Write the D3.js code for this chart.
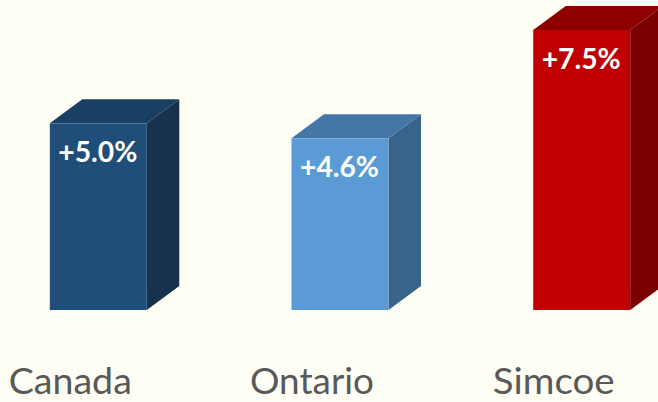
<!DOCTYPE html>
<html>
<head>
<meta charset="utf-8">
<script src="https://cdn.jsdelivr.net/npm/d3@7"></script>
<style>
  html, body { margin: 0; padding: 0; background: #FFFEF5; }
  svg { display: block; }
</style>
</head>
<body>
<div id="chart"></div>
<script>
// Data
const categories = ["Canada", "Ontario", "Simcoe"];
const values = [5.0, 4.6, 7.5];
const valueLabels = ["+5.0%", "+4.6%", "+7.5%"];
const frontColors = ["#1F4E79", "#5B9BD5", "#C00000"];
const topColors = ["#193F62", "#4577A6", "#8E0000"];
const sideColors = ["#16324D", "#386489", "#7A0000"];

const W = 658, H = 402;
const svg = d3.select("#chart").append("svg")
  .attr("width", W).attr("height", H);

svg.append("rect").attr("width", W).attr("height", H).attr("fill", "#FFFEF5");

const baseY = 310;
const x = d3.scalePoint().domain(categories).range([98.3, 581.7]);
const y = d3.scaleLinear().domain([0, 7.5]).range([baseY, 30]);
const barW = 97;
const dx = 32.5, dy = -24;

const g = svg.append("g");
const bars = g.selectAll("g.bar")
  .data(categories.map((c, i) => ({ c, v: values[i], i })))
  .join("g").attr("class", "bar");

// side face
bars.append("path")
  .attr("fill", d => sideColors[d.i])
  .attr("d", d => {
    const x1 = x(d.c) + barW / 2, t = y(d.v), b = y(0);
    return `M${x1},${t}L${x1 + dx},${t + dy}L${x1 + dx},${b + dy}L${x1},${b}Z`;
  });
// top face
bars.append("path")
  .attr("fill", d => topColors[d.i])
  .attr("d", d => {
    const x0 = x(d.c) - barW / 2, x1 = x(d.c) + barW / 2, t = y(d.v);
    return `M${x0},${t}L${x0 + dx},${t + dy}L${x1 + dx},${t + dy}L${x1},${t}Z`;
  });
// front face
bars.append("rect")
  .attr("fill", d => frontColors[d.i])
  .attr("x", d => x(d.c) - barW / 2)
  .attr("y", d => y(d.v))
  .attr("width", barW)
  .attr("height", d => y(0) - y(d.v));

// value labels
bars.append("text")
  .attr("x", d => x(d.c) - 0.5)
  .attr("y", d => y(d.v) + 39)
  .attr("text-anchor", "middle")
  .attr("fill", "#FFFFFF")
  .attr("font-family", "Lato, 'Open Sans', sans-serif")
  .attr("font-weight", "bold")
  .attr("font-size", 29)
  .attr("textLength", 79)
  .attr("lengthAdjust", "spacingAndGlyphs")
  .text(d => valueLabels[d.i]);

// category labels
const labelWidths = [123, 124, 122];
svg.append("g").selectAll("text")
  .data(categories)
  .join("text")
  .attr("x", d => x(d) - 28)
  .attr("y", 394)
  .attr("text-anchor", "middle")
  .attr("fill", "#595959")
  .attr("font-family", "Lato, 'Open Sans', sans-serif")
  .attr("font-size", 37)
  .attr("textLength", (d, i) => labelWidths[i])
  .attr("lengthAdjust", "spacingAndGlyphs")
  .text(d => d);
</script>
</body>
</html>
